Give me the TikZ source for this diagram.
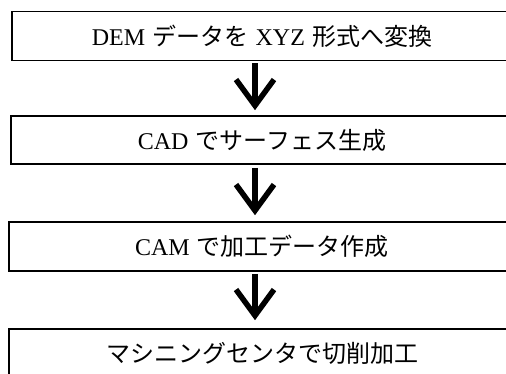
\documentclass[tikz,border=0pt]{standalone}
\usepackage{fontspec}
\setmainfont{Liberation Serif}
\newfontfamily\jp{Noto Sans CJK JP}
\usetikzlibrary{arrows.meta}
\tikzset{
  stepbox/.style={draw=black, line width=1.6pt, rectangle, inner sep=0pt,
    font=\fontsize{24}{28}\selectfont},
  flow/.style={line width=5.5pt, draw=black,
    -{Straight Barb[length=26pt, width=38pt]}},
}
\newcommand{\gap}{\hspace{0.3em}}
\begin{document}
\begin{tikzpicture}[x=1pt, y=-1pt]
\useasboundingbox (0,0) rectangle (506,373);
\clip (0,0) rectangle (506,373);
\fill[white] (0,0) rectangle (506,373);
\node[stepbox, minimum width=499.5pt, minimum height=49pt] (b1) at (262,36)
  {DEM\gap{\jp データを}\gap XYZ\gap{\jp 形式へ変換}};
\node[stepbox, minimum width=502pt, minimum height=48pt] (b2) at (262,140)
  {CAD\gap{\jp でサーフェス生成}};
\node[stepbox, minimum width=506pt, minimum height=49pt] (b3) at (262,246.5)
  {CAM\gap{\jp で加工データ作成}};
\node[stepbox, minimum width=506pt, minimum height=49pt] (b4) at (262,353.5)
  {\jp マシニングセンタで切削加工};
\coordinate (ax) at (255,0);
\draw[flow, shorten <=2pt, shorten >=5pt] (b1.south -| ax) -- (b2.north -| ax);
\draw[flow, shorten <=3pt, shorten >=6pt] (b2.south -| ax) -- (b3.north -| ax);
\draw[flow, shorten <=2pt, shorten >=8pt] (b3.south -| ax) -- (b4.north -| ax);
\end{tikzpicture}
\end{document}
